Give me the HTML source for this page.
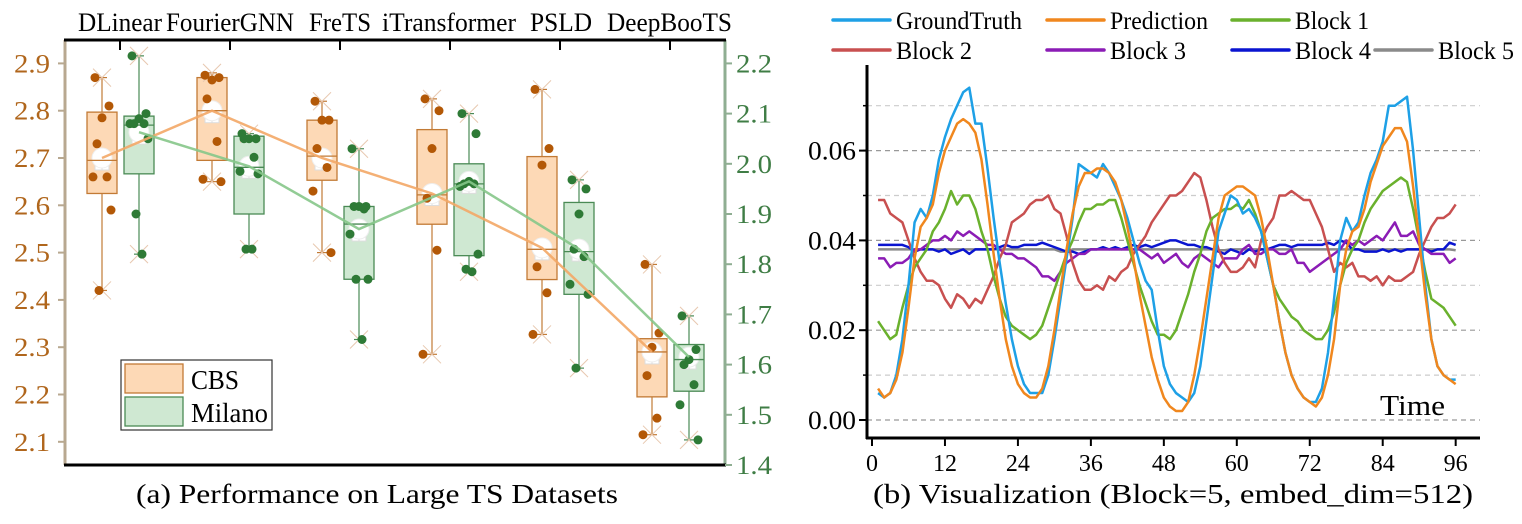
<!DOCTYPE html>
<html><head><meta charset="utf-8"><style>
html,body{margin:0;padding:0;background:#fff;}
svg{display:block;}
svg text{font-family:"Liberation Serif","Times New Roman","DejaVu Serif",serif;}
</style></head><body>
<svg id="fig" width="1522" height="524" viewBox="0 0 1522 524" xmlns="http://www.w3.org/2000/svg" font-family="Liberation Serif, serif">
<g id="left"></g>
<g id="right"></g>
<text x="136" y="503" font-size="27" textLength="482" lengthAdjust="spacingAndGlyphs">(a)  Performance on Large TS Datasets</text>
<text x="873" y="503" font-size="27" textLength="600" lengthAdjust="spacingAndGlyphs">(b)  Visualization (Block=5, embed_dim=512)</text>
</svg>
<script>
// ---------- Left chart data ----------
const categories = ["DLinear","FourierGNN","FreTS","iTransformer","PSLD","DeepBooTS"];
const cbsBox = [[2.625,2.797],[2.695,2.870],[2.653,2.780],[2.560,2.760],[2.443,2.703],[2.195,2.318]];
const cbsMedian = [2.695,2.800,2.704,2.622,2.507,2.290];
const cbsWhisker = [[2.42,2.87],[2.65,2.88],[2.50,2.82],[2.285,2.825],[2.327,2.845],[2.115,2.475]];
const cbsMean = [2.70,2.80,2.70,2.625,2.51,2.29];
const cbsPoints = [[2.87,2.81,2.785,2.73,2.66,2.66,2.59,2.42],[2.875,2.87,2.865,2.825,2.735,2.655,2.65],[2.82,2.78,2.78,2.72,2.68,2.63,2.50],[2.825,2.80,2.72,2.615,2.505,2.285],[2.845,2.72,2.685,2.47,2.415,2.327],[2.475,2.33,2.30,2.24,2.15,2.115]];
const milBox = [[1.98,2.095],[1.90,2.055],[1.77,1.915],[1.817,2.00],[1.74,1.923],[1.547,1.64]];
const milMedian = [2.077,1.993,1.88,1.96,1.825,1.61];
const milWhisker = [[1.82,2.215],[1.83,2.06],[1.65,2.03],[1.785,2.10],[1.593,1.968],[1.45,1.697]];
const milMean = [2.063,1.995,1.87,1.965,1.83,1.615];
const milPoints = [[2.215,2.10,2.09,2.08,2.08,2.08,2.05,1.90,1.82],[2.06,2.05,2.05,2.05,2.013,1.985,1.98,1.83,1.83],[2.03,1.915,1.915,1.915,1.91,1.86,1.77,1.77,1.65],[2.10,2.06,1.965,1.96,1.96,1.955,1.82,1.79,1.785],[1.968,1.95,1.90,1.83,1.815,1.76,1.74,1.593],[1.697,1.63,1.61,1.60,1.56,1.52,1.45]];
const leftTicks = [2.1,2.2,2.3,2.4,2.5,2.6,2.7,2.8,2.9];
const rightTicks = [1.4,1.5,1.6,1.7,1.8,1.9,2.0,2.1,2.2];

// ---------- Right chart data (values in units of 0.001) ----------
const timeSteps = [1,2,3,4,5,6,7,8,9,10,11,12,13,14,15,16,17,18,19,20,21,22,23,24,25,26,27,28,29,30,31,32,33,34,35,36,37,38,39,40,41,42,43,44,45,46,47,48,49,50,51,52,53,54,55,56,57,58,59,60,61,62,63,64,65,66,67,68,69,70,71,72,73,74,75,76,77,78,79,80,81,82,83,84,85,86,87,88,89,90,91,92,93,94,95,96];
const groundTruth = [6,5,6,10,18,30,44,47,45,50,58,63, 67,70,73,74,66,66,56,45,35,26,18,12, 8,6,6,6,10,18,27,36,45,57,56,55, 54,57,55,52,49,45,40,35,31,29,20,12, 8,6,5,4,6,12,22,32,42,46,50,49, 46,47,45,42,36,30,22,15,10,7,5,4, 4,7,15,27,40,45,42,44,50,55,58,62, 70,70,71,72,60,45,30,18,12,10,9,9];
const prediction = [7,5,6,9,15,25,36,43,45,48,55,60, 63,66,67,66,64,58,48,37,27,18,12,8, 6,5,5,7,12,20,29,38,46,52,55,55, 56,56,55,53,49,43,36,28,21,14,9,5, 3,2,2,4,10,18,27,36,45,50,51,52, 52,51,50,45,38,30,22,15,10,7,5,4, 3,5,10,18,30,38,42,43,47,53,57,61, 63,65,65,62,52,40,28,18,12,10,9,8];
const block1 = [22,20,18,19,25,30,34,36,38,42,44,47, 51,48,50,50,47,42,38,32,27,23,21,20, 19,18,19,21,25,29,33,37,40,44,47,47, 48,48,49,49,45,40,35,30,26,22,19,19, 18,20,24,28,33,37,42,45,46,47,47,48, 47,49,46,42,36,30,27,25,23,22,20,19, 18,18,20,24,30,35,38,40,44,47,49,51, 52,53,54,53,47,40,33,27,26,25,23,21];
const block2 = [49,49,46,45,44,40,36,33,31,31,30,27, 25,28,27,25,27,26,29,32,36,39,44,45, 46,48,49,49,50,47,46,41,35,31,29,29, 30,29,32,31,33,34,37,39,41,44,46,48, 50,50,51,53,55,54,49,43,38,35,33,33, 34,36,34,40,43,45,50,50,51,50,49,49, 46,43,38,33,35,34,35,32,32,31,32,30, 32,31,31,32,33,37,40,43,45,45,46,48];
const block3 = [36,36,34,35,35,36,38,38,39,40,40,41, 40,42,41,42,41,40,39,39,38,37,37,36, 36,35,34,32,32,31,33,35,36,37,37,38, 38,38,38,38,38,38,38,38,37,36,37,35, 36,37,35,34,36,37,36,35,34,36,36,36, 38,39,37,37,38,38,37,37,38,35,35,33, 34,35,36,37,38,40,39,40,39,40,41,40, 42,44,41,41,42,39,38,37,37,37,35,36];
const block4 = [39,39,39,39,39,38.5,37.5,38,38,38,37.5,38, 37,37.5,38,37,38,38,38,38,38.5,39,38.5,38.5, 39,39,39,39.5,39,38.5,38,37.5,37.5,37,37.5,38, 38,38.5,38,38.5,38,38.5,39,38.5,39,38.5,39,39.5, 40,40,39.5,39,39,38.5,38.5,38,37.5,37,38,37.5, 37,38,37.5,38,38,38.5,39,39,38.5,39,39,39, 39,39,39.5,39,40,39.5,38,38,37.5,37.5,37.5,38, 37.5,38,37.5,38,38,38,38,37.5,38,38,39.5,39];
const block5 = [38,38,38,38,38,38,38,38,38,38,38,38, 38,38,38,38,38,38,38,38,38,38,38,38, 38,38,38,38,38,38,37.5,37.5,38,38,38,38, 38,38,38,38,38,38,38,38,38,38,38,38, 38,38,38,38,38,38,38,38,37.8,37.8,38,38, 38,38,38,38,38,38,38,38,38,38,38,38, 38,38,38,38,38,38,38,38,38,38,38,38, 38,38,38,38,38,38,38,38,38,38,38,37.8];
const xTicks = [0,12,24,36,48,60,72,84,96];
const yTicks = [0,20,40,60];
const gridVals = [0,10,20,30,40,50,60,70];

const NS="http://www.w3.org/2000/svg";
function mk(parent,tag,attrs,text){const e=document.createElementNS(NS,tag);for(const k in attrs)e.setAttribute(k,attrs[k]);if(text!==undefined)e.textContent=text;parent.appendChild(e);return e;}

// ---------- Left chart ----------
const L=document.getElementById('left');
const yL=v=>441.8-(v-2.1)*473;
const yR=v=>465-(v-1.4)*502;
const catX=i=>120+i*110;
const cbsX=i=>catX(i)-18, milX=i=>catX(i)+19;
const BW=30;
let a=mk(L,'line',{x1:65,y1:40,x2:65,y2:465,stroke:'#b8a890','stroke-width':3});

a=mk(L,'line',{x1:725,y1:40,x2:725,y2:465,stroke:'#8fae92','stroke-width':3});

a=mk(L,'line',{x1:64,y1:40,x2:726,y2:40,stroke:'#000','stroke-width':3});

a=mk(L,'line',{x1:64,y1:465,x2:726,y2:465,stroke:'#000','stroke-width':3});

const catLeft=[78,166,309,382,530,607], catW=[84,128,62,134,62,125];
categories.forEach((c,i)=>{
  const t=mk(L,'line',{x1:catX(i),y1:40,x2:catX(i),y2:50,stroke:'#000','stroke-width':2});
  
  const tx=mk(L,'text',{x:catLeft[i],y:31,'font-size':26,textLength:catW[i],lengthAdjust:'spacingAndGlyphs'},c);
  
});
leftTicks.forEach(v=>{
  const t=mk(L,'line',{x1:58,y1:yL(v),x2:65,y2:yL(v),stroke:'#b8a890','stroke-width':2});
  
  const tx=mk(L,'text',{x:50,y:yL(v)+9,'font-size':26,'text-anchor':'end',fill:'#b0661c',textLength:36,lengthAdjust:'spacingAndGlyphs'},v.toFixed(1));
  
});
rightTicks.forEach(v=>{
  const t=mk(L,'line',{x1:725,y1:yR(v),x2:732,y2:yR(v),stroke:'#8fae92','stroke-width':2});
  
  const tx=mk(L,'text',{x:736,y:yR(v)+9,'font-size':26,fill:'#3f7d45',textLength:36,lengthAdjust:'spacingAndGlyphs'},v.toFixed(1));
  
});
function drawBox(i,cx,box,med,wh,pts,mean,ys,fill,stroke,dot){
  const g=mk(L,'g',{});
  
  mk(g,'line',{x1:cx,y1:ys(wh[0]),x2:cx,y2:ys(box[0]),stroke:stroke,'stroke-width':1.2});
  mk(g,'line',{x1:cx,y1:ys(box[1]),x2:cx,y2:ys(wh[1]),stroke:stroke,'stroke-width':1.2});
  mk(g,'line',{x1:cx-5,y1:ys(wh[0]),x2:cx+5,y2:ys(wh[0]),stroke:stroke,'stroke-width':1.2});
  mk(g,'line',{x1:cx-5,y1:ys(wh[1]),x2:cx+5,y2:ys(wh[1]),stroke:stroke,'stroke-width':1.2});
  mk(g,'rect',{x:cx-BW/2,y:ys(box[1]),width:BW,height:ys(box[0])-ys(box[1]),fill:fill,stroke:stroke,'stroke-width':1.3});
  mk(g,'rect',{x:cx-7,y:ys(mean)-2,width:14,height:14,fill:'#fff',stroke:'#ddd','stroke-width':1});
  mk(g,'line',{x1:cx,y1:ys(mean)-2,x2:cx,y2:ys(mean)+12,stroke:'#ddd'});
  mk(g,'line',{x1:cx-7,y1:ys(mean)+5,x2:cx+7,y2:ys(mean)+5,stroke:'#ddd'});
  mk(g,'circle',{cx:cx,cy:ys(mean),r:10,fill:'#fff',stroke:'#eee'});
  mk(g,'line',{x1:cx-BW/2,y1:ys(med),x2:cx+BW/2,y2:ys(med),stroke:stroke,'stroke-width':1.3});
  [wh[0],wh[1]].forEach(v=>{
    mk(g,'path',{d:`M${cx-9} ${ys(v)-9}L${cx+9} ${ys(v)+9}M${cx+9} ${ys(v)-9}L${cx-9} ${ys(v)+9}`,stroke:'#e8c8b0','stroke-width':1,fill:'none'});
  });
  pts.forEach((v,k)=>{
    const off=[-7,7,0,-5,5,-9,9,-3,3][k%9];
    const d=mk(g,'circle',{cx:cx+off,cy:ys(v),r:4.5,fill:dot});
    
  });
}
categories.forEach((c,i)=>{
  drawBox(i,cbsX(i),cbsBox[i],cbsMedian[i],cbsWhisker[i],cbsPoints[i],cbsMean[i],yL,'#fdd9b6','#c27a35','#b35806');
  drawBox(i,milX(i),milBox[i],milMedian[i],milWhisker[i],milPoints[i],milMean[i],yR,'#cfe8d2','#4a8a55','#2e7a36');
});
let ml=mk(L,'polyline',{points:cbsMean.map((v,i)=>cbsX(i)+','+yL(v)).join(' '),fill:'none',stroke:'#f3a766','stroke-width':2.5,'stroke-opacity':0.9});

ml=mk(L,'polyline',{points:milMean.map((v,i)=>milX(i)+','+yR(v)).join(' '),fill:'none',stroke:'#86c789','stroke-width':2.5,'stroke-opacity':0.9});

const lg=mk(L,'g',{});

mk(lg,'rect',{x:121,y:360,width:151,height:70,fill:'#fff',stroke:'#333','stroke-width':1.2});
mk(lg,'rect',{x:125,y:364,width:58,height:29,fill:'#fdd9b6',stroke:'#c27a35','stroke-width':1.3});
mk(lg,'rect',{x:125,y:397,width:58,height:29,fill:'#cfe8d2',stroke:'#4a8a55','stroke-width':1.3});
let le=mk(lg,'text',{x:191,y:389,'font-size':27,textLength:48,lengthAdjust:'spacingAndGlyphs'},'CBS');
le=mk(lg,'text',{x:191,y:422,'font-size':27,textLength:77,lengthAdjust:'spacingAndGlyphs'},'Milano');

// ---------- Right chart ----------
const R=document.getElementById('right');
const xS=t=>872+t*6.08;
const yS=v=>420-v*4.49;
gridVals.forEach(v=>{
  const g=mk(R,'line',{x1:867,y1:yS(v),x2:1480,y2:yS(v),stroke:(v%20===0)?'#999':'#ccc','stroke-width':1.2,'stroke-dasharray':'5,4'});
  
  const t=mk(R,'line',{x1:863,y1:yS(v),x2:867,y2:yS(v),stroke:'#000','stroke-width':1.5});
  
});
a=mk(R,'line',{x1:867,y1:65,x2:867,y2:439,stroke:'#000','stroke-width':3});

a=mk(R,'line',{x1:866,y1:438,x2:1480,y2:438,stroke:'#000','stroke-width':3});

yTicks.forEach(v=>{
  const t=mk(R,'line',{x1:859,y1:yS(v),x2:867,y2:yS(v),stroke:'#000','stroke-width':2});
  
  const tx=mk(R,'text',{x:856,y:yS(v)+9,'font-size':26,'text-anchor':'end',textLength:48,lengthAdjust:'spacingAndGlyphs'},(v/1000).toFixed(2));
  
});
xTicks.forEach(v=>{
  const t=mk(R,'line',{x1:xS(v),y1:438,x2:xS(v),y2:446,stroke:'#000','stroke-width':2});
  
  const tx=mk(R,'text',{x:xS(v),y:471,'font-size':24,'text-anchor':'middle'},String(v));
  
});
const tl=mk(R,'text',{x:1380,y:415,'font-size':28,textLength:65,lengthAdjust:'spacingAndGlyphs'},'Time');

const seriesList=[
 ['block5',block5,'#8a8a8a'],['block4',block4,'#0a14d0'],['block3',block3,'#8b1cb5'],
 ['block2',block2,'#c85050'],['block1',block1,'#6ab12d'],['ground-truth',groundTruth,'#1ea0e6'],['prediction',prediction,'#f0871e']];
seriesList.forEach(s=>{
  const p=mk(R,'polyline',{points:s[1].map((v,i)=>xS(timeSteps[i])+','+yS(v)).join(' '),fill:'none',stroke:s[2],'stroke-width':2.5,'stroke-linejoin':'round'});
  
});
const legendItems=[['GroundTruth','#1ea0e6',833,20,126],['Prediction','#f0871e',1047,20,98],['Block 1','#6ab12d',1232,20,74],
 ['Block 2','#c85050',833,50,76],['Block 3','#8b1cb5',1047,50,76],['Block 4','#0a14d0',1232,50,76],['Block 5','#8a8a8a',1375,50,76]];
legendItems.forEach(it=>{
  const g=mk(R,'g',{});
  
  mk(g,'line',{x1:it[2],y1:it[3],x2:it[2]+57,y2:it[3],stroke:it[1],'stroke-width':3.5,'stroke-linecap':'round'});
  mk(g,'text',{x:it[2]+63,y:it[3]+9,'font-size':25,textLength:it[4],lengthAdjust:'spacingAndGlyphs'},it[0]);
});
</script>
</body></html>
